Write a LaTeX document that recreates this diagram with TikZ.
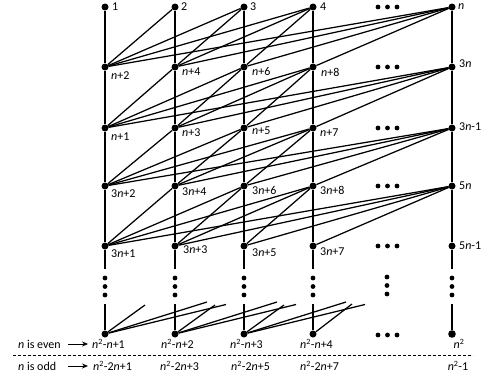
\documentclass[tikz,border=0pt]{standalone}
\usepackage{fontspec}
\setmainfont{Carlito}
\usetikzlibrary{arrows.meta}
\newcommand{\Nv}{\textit{n}}
\newcommand{\Sq}{\textit{n}\textsuperscript{2}}
\begin{document}
\begin{tikzpicture}[x=1pt,y=-1pt,
  vtx/.style={circle,fill=black,inner sep=0pt,minimum size=7pt},
  bigvtx/.style={circle,fill=black,inner sep=0pt,minimum size=7.6pt},
  edge/.style={line width=1.25pt},
  vline/.style={line width=1.5pt},
  lbl/.style={font=\fontsize{12}{14}\selectfont,inner sep=0pt,anchor=west},
  clbl/.style={font=\fontsize{12}{14}\selectfont,inner sep=0pt,anchor=center},
  edot/.style={circle,fill=black,inner sep=0pt,minimum size=4.8pt},
  sep/.style={line width=0.6pt,dash pattern=on 3pt off 2pt},
  arr/.style={line width=0.9pt,-{Stealth[length=6pt,width=5pt]}}
]
\useasboundingbox (0,0) rectangle (500,375);
% vertices
\foreach \c/\x in {1/105,2/175,3/244,4/313,5/452}{
  \foreach \r/\y in {1/7,2/67,3/128,4/186,5/246}{
    \node[vtx] (v\r\c) at (\x,\y) {};
  }
  \coordinate (t\c) at (\x,269);
  \coordinate (b\c) at (\x,304);
  \node[edot] (d\c a) at (\x,278) {};
  \node[edot] (d\c b) at (\x,286.5) {};
  \node[edot] (d\c c) at (\x,295) {};
}
\foreach \c/\x in {1/105,2/175,3/244,4/313}{
  \node[vtx] (v6\c) at (\x,334) {};
}
\node[bigvtx] (v65) at (452,334) {};
% horizontal ellipses
\foreach \r/\y in {1/7,2/67,3/128,4/186,5/246,6/335}{
  \node[edot] (h\r a) at (378,\y) {};
  \node[edot] (h\r b) at (387.5,\y) {};
  \node[edot] (h\r c) at (397,\y) {};
}
\node[edot] (hva) at (387,277) {};
\node[edot] (hvb) at (387,285.5) {};
\node[edot] (hvc) at (387,294) {};
% vertical lines
\foreach \c in {1,...,5}{
  \draw[vline] (v1\c) -- (v2\c) -- (v3\c) -- (v4\c) -- (v5\c) -- (t\c);
  \draw[vline] (b\c) -- (v6\c);
}
% diagonal edges between consecutive rows
\foreach \r/\s in {1/2,2/3,3/4,4/5}{
  \foreach \j/\i in {2/1,3/1,3/2,4/1,4/2,4/3,5/1,5/2,5/3,5/4}{
    \draw[edge] (v\r\j) -- (v\s\i);
  }
}
% stubs from the bottom row
\foreach \c/\x in {1/105,2/175,3/244}{
  \coordinate (s\c a) at (\x+40,305);
  \coordinate (s\c b) at (\x+102,302);
  \coordinate (s\c c) at (\x+121,304.5);
  \draw[edge] (v6\c) -- (s\c a);
  \draw[edge] (v6\c) -- (s\c b);
  \draw[edge] (v6\c) -- (s\c c);
}
\coordinate (s4a) at (352,304);
\draw[edge] (v64) -- (s4a);
% labels
\node[lbl] (l11) at (112,7) {1};
\node[lbl] (l12) at (181,7) {2};
\node[lbl] (l13) at (250,7) {3};
\node[lbl] (l14) at (320,7) {4};
\node[lbl] (l15) at (458,7) {\Nv};
\node[lbl] (l21) at (111,76) {\Nv+2};
\node[lbl] (l22) at (182,72) {\Nv+4};
\node[lbl] (l23) at (252,71) {\Nv+6};
\node[lbl] (l24) at (321,72) {\Nv+8};
\node[lbl] (l25) at (459,64) {3\Nv};
\node[lbl] (l31) at (111,137) {\Nv+1};
\node[lbl] (l32) at (182,133) {\Nv+3};
\node[lbl] (l33) at (252,131) {\Nv+5};
\node[lbl] (l34) at (320,133) {\Nv+7};
\node[lbl] (l35) at (459,127) {3\Nv-1};
\node[lbl] (l41) at (111,194) {3\Nv+2};
\node[lbl] (l42) at (182,192) {3\Nv+4};
\node[lbl] (l43) at (252,190) {3\Nv+6};
\node[lbl] (l44) at (320,190) {3\Nv+8};
\node[lbl] (l45) at (459,186) {5\Nv};
\node[lbl] (l51) at (111,254) {3\Nv+1};
\node[lbl] (l52) at (183,250) {3\Nv+3};
\node[lbl] (l53) at (252,253) {3\Nv+5};
\node[lbl] (l54) at (320,252) {3\Nv+7};
\node[lbl] (l55) at (459,246) {5\Nv-1};
% bottom labels
\node[lbl] (e1) at (92,344) {\Sq-\Nv+1};
\node[lbl] (e2) at (161,344) {\Sq-\Nv+2};
\node[lbl] (e3) at (230,344) {\Sq-\Nv+3};
\node[lbl] (e4) at (300,344) {\Sq-\Nv+4};
\node[clbl] (e5) at (459,344) {\Sq};
\node[lbl] (o1) at (93,366) {\Sq-2\Nv+1};
\node[lbl] (o2) at (160,366) {\Sq-2\Nv+3};
\node[lbl] (o3) at (231,366) {\Sq-2\Nv+5};
\node[lbl] (o4) at (300,366) {\Sq-2\Nv+7};
\node[clbl] (o5) at (458,366) {\Sq-1};
\node[lbl] (even) at (18,344) {\Nv{} is even};
\node[lbl] (odd) at (18,366) {\Nv{} is odd};
\coordinate (ea1) at (68,344);
\coordinate (ea2) at (88,344);
\coordinate (oa1) at (68,366);
\coordinate (oa2) at (88,366);
\draw[arr] (ea1) -- (ea2);
\draw[arr] (oa1) -- (oa2);
\coordinate (dl1) at (13,355);
\coordinate (dl2) at (473,355);
\draw[sep] (dl1) -- (dl2);
\end{tikzpicture}
\end{document}
